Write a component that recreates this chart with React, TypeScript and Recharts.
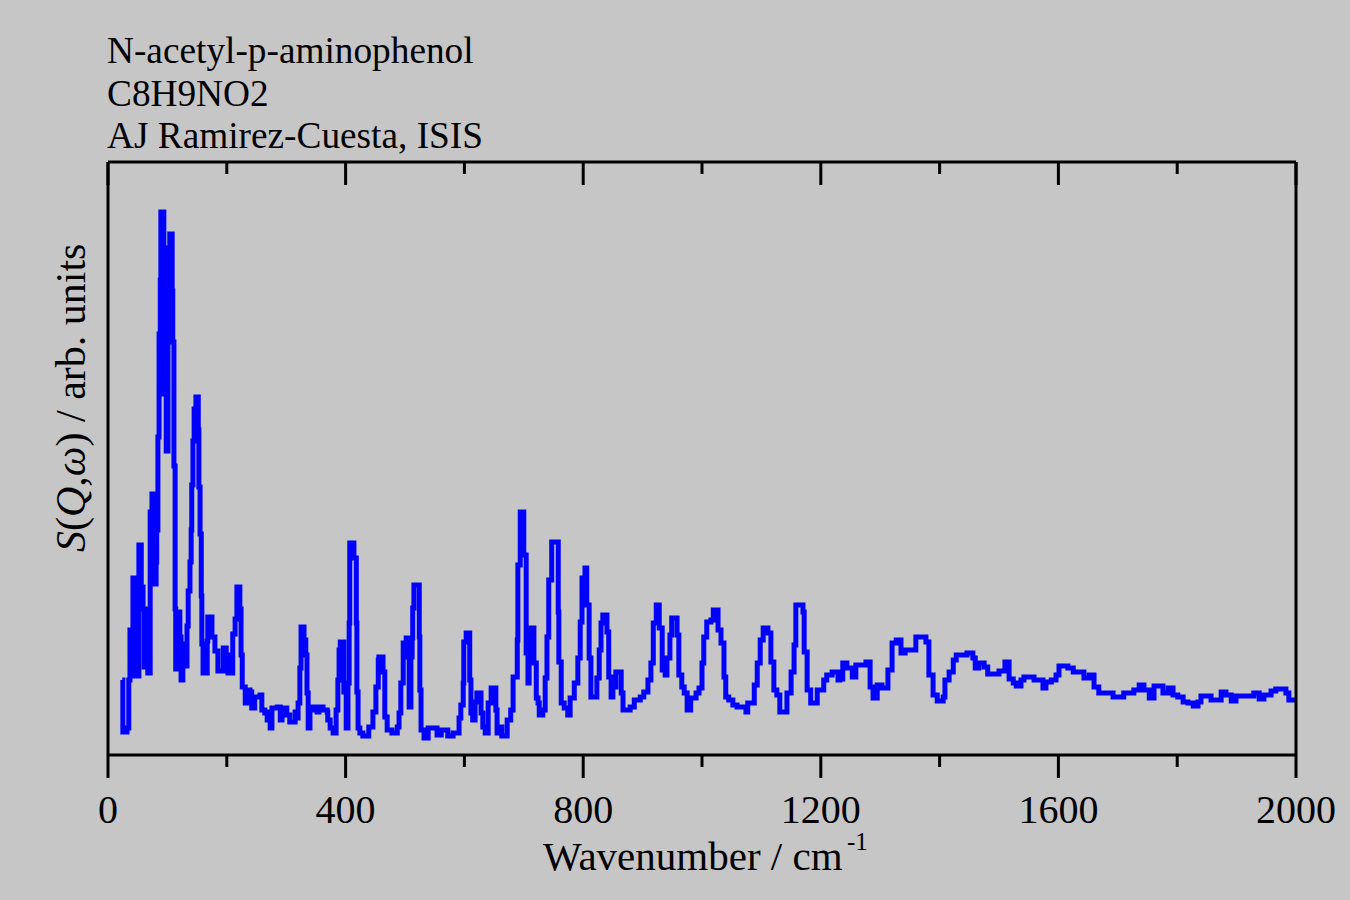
import { LineChart, Line, XAxis, YAxis } from "recharts";

// wavenumber (cm-1) where each step of the histogram begins
const wavenumber = [
  24, 25, 32, 35, 37, 42, 45, 52, 56, 59,
  61, 64, 67, 71, 74, 77, 79, 81, 82, 84,
  86, 88, 89, 94, 96, 98, 101, 104, 108, 109,
  111, 113, 114, 118, 121, 123, 126, 130, 131, 133,
  135, 138, 140, 141, 143, 145, 148, 152, 153, 155,
  157, 158, 160, 167, 168, 175, 180, 185, 194, 199,
  202, 210, 214, 217, 222, 224, 226, 231, 234, 239,
  242, 247, 256, 259, 264, 268, 269, 273, 276, 285,
  290, 293, 301, 306, 315, 318, 320, 323, 325, 330,
  333, 335, 337, 340, 345, 352, 355, 362, 369, 370,
  374, 379, 384, 387, 389, 391, 397, 401, 404, 406,
  407, 414, 418, 419, 421, 424, 429, 439, 446, 451,
  455, 456, 463, 466, 470, 478, 487, 490, 493, 497,
  502, 505, 507, 510, 512, 513, 515, 524, 525, 527,
  532, 539, 554, 561, 572, 581, 591, 594, 598, 599,
  603, 609, 611, 614, 618, 621, 628, 631, 635, 640,
  645, 653, 655, 658, 663, 672, 678, 682, 689, 690,
  694, 700, 704, 707, 709, 717, 721, 724, 726, 732,
  736, 739, 742, 747, 758, 759, 763, 768, 774, 778,
  785, 791, 795, 798, 803, 806, 810, 813, 823, 827,
  830, 833, 840, 843, 847, 850, 855, 864, 867, 879,
  886, 896, 902, 909, 914, 918, 923, 928, 933, 938,
  941, 946, 949, 958, 961, 966, 970, 975, 981, 990,
  995, 1000, 1003, 1008, 1015, 1019, 1027, 1032, 1037, 1040,
  1045, 1052, 1059, 1074, 1077, 1088, 1093, 1098, 1103, 1111,
  1116, 1121, 1126, 1131, 1143, 1150, 1155, 1158, 1170, 1172,
  1177, 1183, 1194, 1205, 1210, 1219, 1229, 1232, 1237, 1244,
  1253, 1259, 1276, 1283, 1288, 1295, 1303, 1313, 1320, 1327,
  1335, 1342, 1360, 1377, 1382, 1389, 1396, 1406, 1409, 1416,
  1423, 1428, 1446, 1456, 1460, 1466, 1475, 1481, 1500, 1510,
  1517, 1524, 1529, 1537, 1542, 1559, 1574, 1579, 1588, 1596,
  1601, 1616, 1625, 1643, 1652, 1660, 1668, 1692, 1710, 1727,
  1736, 1744, 1753, 1761, 1776, 1785, 1793, 1801, 1810, 1818,
  1827, 1835, 1840, 1857, 1874, 1882, 1891, 1899, 1929, 1938,
  1946, 1958, 1966, 1983, 1988, 2000,
];

// S(Q,w), arbitrary units
const intensity = [
  75, 23, 27, 75, 125, 177, 79, 210, 168, 146,
  88, 146, 82, 243, 261, 236, 171, 193, 225, 318,
  421, 475, 543, 361, 486, 304, 507, 521, 464, 413,
  289, 146, 86, 143, 118, 75, 104, 111, 89, 129,
  164, 193, 225, 270, 314, 346, 358, 325, 268, 221,
  159, 111, 82, 114, 138, 118, 104, 84, 107, 100,
  82, 121, 136, 168, 146, 100, 68, 52, 65, 63,
  47, 58, 60, 45, 42, 35, 43, 27, 47, 48,
  35, 47, 40, 33, 43, 37, 52, 87, 128, 115,
  100, 62, 27, 45, 48, 43, 48, 45, 43, 35,
  27, 22, 45, 75, 105, 113, 63, 27, 72, 132,
  212, 197, 132, 63, 27, 22, 19, 28, 43, 68,
  95, 98, 83, 38, 25, 22, 28, 42, 72, 112,
  117, 98, 48, 98, 117, 147, 170, 118, 65, 25,
  17, 27, 20, 25, 19, 22, 37, 50, 72, 113,
  122, 75, 42, 35, 53, 62, 42, 28, 22, 52,
  67, 45, 22, 28, 19, 35, 45, 78, 115, 190,
  243, 200, 102, 72, 127, 92, 57, 52, 40, 45,
  77, 118, 175, 213, 143, 93, 52, 47, 40, 57,
  72, 97, 133, 177, 187, 150, 97, 58, 77, 105,
  132, 140, 123, 78, 58, 68, 83, 62, 45, 48,
  55, 58, 63, 75, 92, 132, 150, 127, 85, 80,
  97, 120, 137, 120, 80, 68, 62, 45, 57, 62,
  67, 92, 118, 133, 135, 145, 125, 112, 78, 58,
  55, 50, 48, 43, 52, 70, 92, 115, 127, 122,
  93, 65, 60, 43, 62, 83, 110, 150, 143, 103,
  65, 52, 65, 75, 80, 83, 75, 76, 92, 87,
  78, 90, 93, 68, 57, 70, 67, 85, 112, 115,
  102, 105, 118, 113, 80, 60, 54, 58, 75, 83,
  95, 100, 102, 97, 87, 92, 88, 81, 84, 93,
  76, 72, 69, 75, 78, 75, 67, 73, 75, 80,
  89, 87, 83, 77, 80, 68, 62, 58, 62, 65,
  70, 65, 57, 69, 62, 67, 60, 58, 53, 52,
  49, 53, 59, 55, 63, 60, 54, 59, 62, 56,
  60, 64, 66, 62, 55, 55,
];

const xTicks = [0, 200, 400, 600, 800, 1000, 1200, 1400, 1600, 1800, 2000];
const titleLines = ["N-acetyl-p-aminophenol", "C8H9NO2", "AJ Ramirez-Cuesta, ISIS"];

const data = wavenumber.map((w, i) => ({ w, s: intensity[i] }));

const FONT = "'Liberation Serif', 'Times New Roman', serif";
const BG = "#c6c6c6";
const axisStyle = { stroke: "#000", strokeWidth: 3 };

// bottom ticks point outward, labels on every 400
function BottomTick(props: any) {
  const { x, y, payload } = props;
  const major = payload.value % 400 === 0;
  return (
    <g>
      <line x1={x} x2={x} y1={y} y2={y + (major ? 23 : 12)} stroke="#000" strokeWidth={3} />
      {major && (
        <text x={x} y={y + 68} textAnchor="middle" fontFamily={FONT} fontSize={40} fill="#000">
          {payload.value}
        </text>
      )}
    </g>
  );
}

// top ticks point into the plot, no labels
function TopTick(props: any) {
  const { x, y, payload } = props;
  const major = payload.value % 400 === 0;
  return <line x1={x} x2={x} y1={y} y2={y + (major ? 23 : 12)} stroke="#000" strokeWidth={3} />;
}

export default function App() {
  return (
    <div style={{ position: "relative", width: 1350, height: 900, background: BG }}>
      <style>{`body { margin: 0; }`}</style>
      <LineChart
        width={1350}
        height={900}
        data={data}
        margin={{ top: 161, right: 53, left: 107, bottom: 0 }}
      >
        <XAxis
          dataKey="w"
          type="number"
          domain={[0, 2000]}
          ticks={xTicks}
          interval={0}
          height={145}
          tickSize={0}
          tickMargin={0}
          tickLine={false}
          tick={<BottomTick />}
          axisLine={axisStyle}
        />
        <XAxis
          xAxisId="top"
          orientation="top"
          dataKey="w"
          type="number"
          domain={[0, 2000]}
          ticks={xTicks}
          interval={0}
          height={1}
          tickSize={0}
          tickMargin={0}
          tickLine={false}
          tick={<TopTick />}
          axisLine={axisStyle}
        />
        <YAxis
          domain={[0, 593]}
          width={1}
          tick={false}
          tickLine={false}
          axisLine={axisStyle}
        />
        <YAxis
          yAxisId="right"
          orientation="right"
          domain={[0, 593]}
          width={1}
          tick={false}
          tickLine={false}
          axisLine={axisStyle}
        />
        <Line
          dataKey="s"
          type="stepAfter"
          stroke="#0000ff"
          strokeWidth={5}
          dot={false}
          activeDot={false}
          isAnimationActive={false}
        />
      </LineChart>

      {/* titles and axis labels */}
      <svg
        width={1350}
        height={900}
        style={{ position: "absolute", left: 0, top: 0, pointerEvents: "none" }}
        fontFamily={FONT}
      >
        {titleLines.map((t, i) => (
          <text key={i} x={107} y={63 + i * 42.5} fontSize={37.3} fill="#000">
            {t}
          </text>
        ))}
        <text x={543} y={870} fontSize={41} fill="#000">
          Wavenumber / cm
          <tspan x={847} y={850} fontSize={25}>-1</tspan>
        </text>
        <text transform="translate(85, 552) rotate(-90)" fontSize={42} fill="#000">
          <tspan fontStyle="italic">S</tspan>(<tspan fontStyle="italic">Q</tspan>,<tspan fontStyle="italic">ω</tspan>) / arb. units
        </text>
      </svg>
    </div>
  );
}
